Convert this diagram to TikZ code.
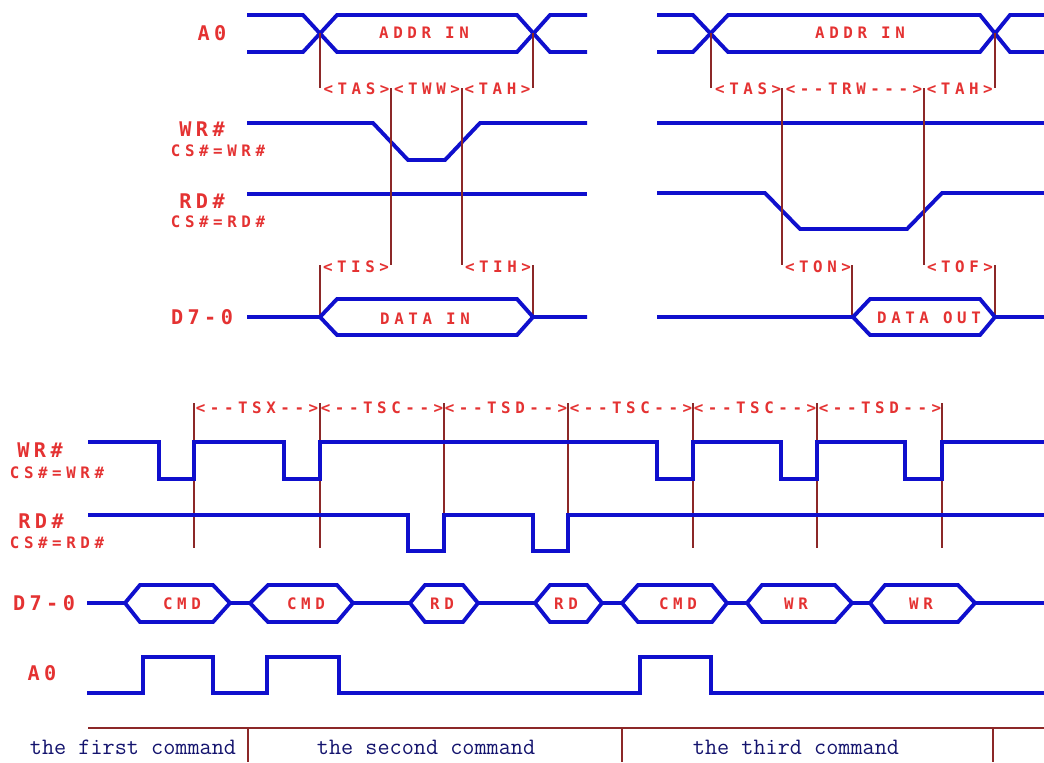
\documentclass[tikz,border=0pt]{standalone}
\usepackage{fontspec}
\newfontfamily\pixfont{DejaVu Sans Mono}[LetterSpace=29]
\newfontfamily\pixbig{DejaVu Sans Mono}[LetterSpace=22]
\definecolor{wire}{RGB}{15,15,205}
\definecolor{tagred}{RGB}{228,50,50}
\definecolor{guidebrown}{RGB}{140,40,40}
\definecolor{cmdblue}{RGB}{20,20,110}
\tikzset{
  sig/.style={wire, line width=2.2pt},
  guide/.style={guidebrown, line width=0.7pt},
  tag/.style={text=tagred, font=\pixfont\bfseries\fontsize{9}{10}\selectfont, inner sep=0pt},
  pinlbl/.style={text=tagred, font=\pixbig\bfseries\fontsize{11.5}{12}\selectfont, inner sep=0pt},
  cmdtxt/.style={text=cmdblue, font=\ttfamily\fontsize{13.4}{15}\selectfont, inner sep=0pt}
}

\begin{document}
\begin{tikzpicture}[x=0.02cm,y=-0.02cm]
  \useasboundingbox (0,0) rectangle (1044,762);

  % write cycle
  \node[pinlbl] (a0w) at (212,33) {A0};
  \draw[sig] (247,15) -- (303,15) -- (337,52) -- (517,52) -- (550,15) -- (587,15);
  \draw[sig] (247,52) -- (303,52) -- (337,15) -- (517,15) -- (550,52) -- (587,52);
  \node[tag] (addrw) at (424,33) {ADDR IN};
  \draw[guide] (320,33) -- (320,88);
  \draw[guide] (533,33) -- (533,88);
  \node[tag] (tw) at (427,89) {<TAS><TWW><TAH>};

  \node[pinlbl] (wrw) at (202,129) {WR\#};
  \node[tag] (wrwcs) at (218,151) {CS\#=WR\#};
  \draw[sig] (247,123) -- (373,123) -- (408,160) -- (445,160) -- (480,123) -- (587,123);
  \node[pinlbl] (rdw) at (202,201) {RD\#};
  \node[tag] (rdwcs) at (218,222) {CS\#=RD\#};
  \draw[sig] (247,194) -- (587,194);
  \draw[guide] (391,88) -- (391,265);
  \draw[guide] (462,88) -- (462,265);

  \node[tag] (tis) at (356,267) {<TIS>};
  \node[tag] (tih) at (498,267) {<TIH>};
  \draw[guide] (320,265) -- (320,317);
  \draw[guide] (533,265) -- (533,317);
  \node[pinlbl] (dw) at (202,317) {D7-0};
  \draw[sig] (247,317) -- (320,317) -- (337,299) -- (517,299) -- (533,317) -- (587,317);
  \draw[sig] (320,317) -- (337,335) -- (517,335) -- (533,317);
  \node[tag] (datain) at (425,319) {DATA IN};

  % read cycle
  \draw[sig] (657,15) -- (693,15) -- (728,52) -- (980,52) -- (1010,15) -- (1044,15);
  \draw[sig] (657,52) -- (693,52) -- (728,15) -- (980,15) -- (1010,52) -- (1044,52);
  \node[tag] (addrr) at (860,33) {ADDR IN};
  \draw[guide] (711,33) -- (711,88);
  \draw[guide] (995,33) -- (995,88);
  \node[tag] (tr) at (854,89) {<TAS><-{}-TRW-{}-{}->{}<TAH>};

  \draw[sig] (657,123) -- (1044,123);
  \draw[sig] (657,193) -- (765,193) -- (800,229) -- (907,229) -- (942,193) -- (1044,193);
  \draw[guide] (782,88) -- (782,265);
  \draw[guide] (924,88) -- (924,265);

  \node[tag] (ton) at (818,267) {<TON>};
  \node[tag] (tof) at (960,267) {<TOF>};
  \draw[guide] (852,265) -- (852,317);
  \draw[guide] (995,265) -- (995,317);
  \draw[sig] (657,317) -- (853,317) -- (870,299) -- (980,299) -- (995,317) -- (1044,317);
  \draw[sig] (853,317) -- (870,335) -- (980,335) -- (995,317);
  \node[tag] (dataout) at (929,318) {DATA OUT};

  % command sequence
  \node[tag] (tsx) at (257,408) {<-{}-TSX-{}->};
  \node[tag] (tsc1) at (382,408) {<-{}-TSC-{}->};
  \node[tag] (tsd1) at (506,408) {<-{}-TSD-{}->};
  \node[tag] (tsc2) at (631,408) {<-{}-TSC-{}->};
  \node[tag] (tsc3) at (755,408) {<-{}-TSC-{}->};
  \node[tag] (tsd2) at (880,408) {<-{}-TSD-{}->};
  \draw[guide] (194,403) -- (194,548);
  \draw[guide] (320,403) -- (320,548);
  \draw[guide] (444,403) -- (444,548);
  \draw[guide] (568,403) -- (568,548);
  \draw[guide] (693,403) -- (693,548);
  \draw[guide] (817,403) -- (817,548);
  \draw[guide] (942,403) -- (942,548);

  \node[pinlbl] (wrs) at (40,450) {WR\#};
  \node[tag] (wrscs) at (57,473) {CS\#=WR\#};
  \draw[sig] (88,442) -- (159,442) -- (159,479) -- (194,479) -- (194,442) -- (284,442) -- (284,479) -- (320,479) -- (320,442)
    -- (657,442) -- (657,479) -- (693,479) -- (693,442) -- (781,442) -- (781,479) -- (817,479) -- (817,442)
    -- (905,442) -- (905,479) -- (942,479) -- (942,442) -- (1044,442);
  \node[pinlbl] (rds) at (41,521) {RD\#};
  \node[tag] (rdscs) at (57,543) {CS\#=RD\#};
  \draw[sig] (88,515) -- (408,515) -- (408,551) -- (444,551) -- (444,515) -- (533,515) -- (533,551) -- (568,551) -- (568,515) -- (1044,515);

  \node[pinlbl] (ds) at (44,603) {D7-0};
  \draw[sig] (87,603) -- (125,603) (230,603) -- (250,603) (353,603) -- (410,603) (478,603) -- (535,603)
    (602,603) -- (622,603) (727,603) -- (747,603) (852,603) -- (870,603) (975,603) -- (1044,603);
  \draw[sig] (125,603) -- (140,585) -- (213,585) -- (230,603) -- (213,622) -- (140,622) -- cycle;
  \draw[sig] (250,603) -- (268,585) -- (337,585) -- (353,603) -- (337,622) -- (268,622) -- cycle;
  \draw[sig] (410,603) -- (425,585) -- (463,585) -- (478,603) -- (463,622) -- (425,622) -- cycle;
  \draw[sig] (535,603) -- (550,585) -- (587,585) -- (602,603) -- (587,622) -- (550,622) -- cycle;
  \draw[sig] (622,603) -- (638,585) -- (712,585) -- (727,603) -- (712,622) -- (638,622) -- cycle;
  \draw[sig] (747,603) -- (762,585) -- (835,585) -- (852,603) -- (835,622) -- (762,622) -- cycle;
  \draw[sig] (870,603) -- (885,585) -- (958,585) -- (975,603) -- (958,622) -- (885,622) -- cycle;
  \node[tag] (cmd1) at (182,604) {CMD};
  \node[tag] (cmd2) at (306,604) {CMD};
  \node[tag] (rd1) at (442,604) {RD};
  \node[tag] (rd2) at (566,604) {RD};
  \node[tag] (cmd3) at (678,604) {CMD};
  \node[tag] (wr1) at (796,604) {WR};
  \node[tag] (wr2) at (921,604) {WR};

  \node[pinlbl] (a0s) at (42,673) {A0};
  \draw[sig] (87,693) -- (143,693) -- (143,657) -- (213,657) -- (213,693) -- (267,693) -- (267,657) -- (339,657) -- (339,693)
    -- (640,693) -- (640,657) -- (711,657) -- (711,693) -- (1044,693);

  % command boxes
  \draw[guide] (88,728) -- (1044,728);
  \draw[guide] (248,728) -- (248,762);
  \draw[guide] (622,728) -- (622,762);
  \draw[guide] (993,728) -- (993,762);
  \node[cmdtxt] (first) at (133,747) {the first command};
  \node[cmdtxt] (second) at (426,747) {the second command};
  \node[cmdtxt] (third) at (796,747) {the third command};
\end{tikzpicture}
\end{document}
